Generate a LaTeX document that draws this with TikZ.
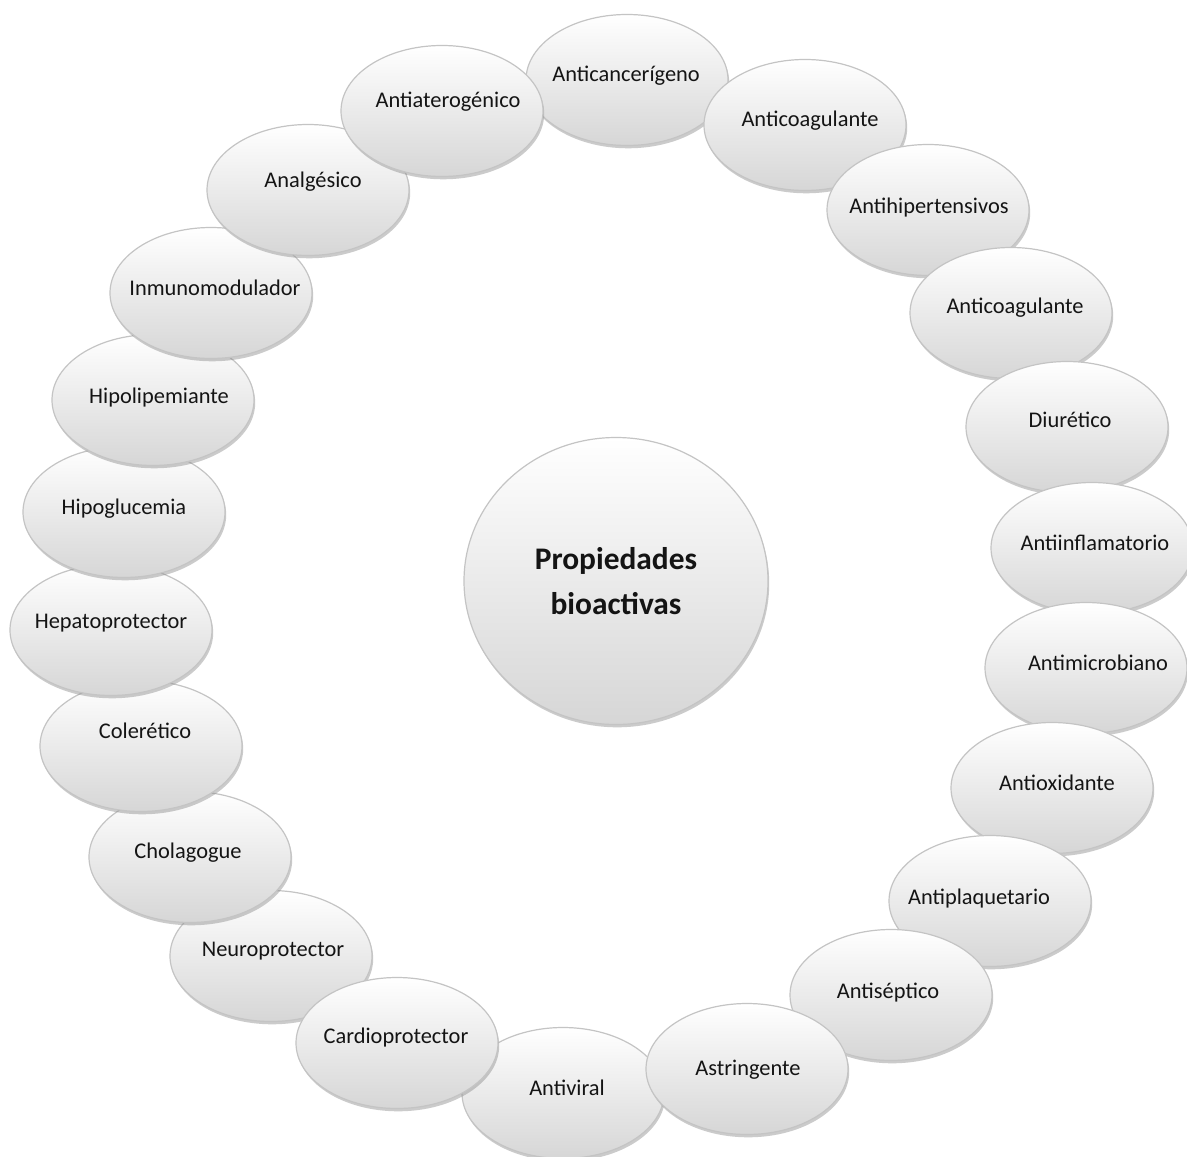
\documentclass[tikz,border=0pt]{standalone}
\usepackage{fontspec}
\setmainfont{Carlito}
\usetikzlibrary{shapes.geometric,shadows}
\newcommand\pname[3]{\smash{\makebox[0pt]{\kern#1pt\makebox[0pt]{\raisebox{#2pt}{#3}}}}}
\definecolor{bubbot}{RGB}{214,214,214}
\definecolor{bubline}{RGB}{196,196,196}
\definecolor{txt}{RGB}{20,20,20}
\begin{document}
\begin{tikzpicture}[x=0.5pt,y=-0.5pt,
  bub/.style={ellipse, draw=bubline, line width=0.6pt,
    top color=white, bottom color=bubbot,
    minimum width=101pt, minimum height=65.5pt, inner sep=0pt,
    font=\fontsize{11.2}{13.4}\selectfont, text=txt,
    drop shadow={shadow xshift=0.6pt, shadow yshift=-1.4pt, opacity=0.45, fill=black!45}},
  hub/.style={ellipse, draw=bubline, line width=0.6pt,
    top color=white, bottom color=bubbot,
    minimum width=152pt, minimum height=143.5pt, inner sep=0pt, align=center,
    font=\fontsize{15.7}{22.5}\selectfont\bfseries, text=txt,
    drop shadow={shadow xshift=0.6pt, shadow yshift=-1.4pt, opacity=0.45, fill=black!45}}]
\fill[white] (0,0) rectangle (1187,1156);
\useasboundingbox (0,0) rectangle (1187,1156);

\node[hub] (hub) at (616,581) {Propiedades\\bioactivas};

\node[bub] (antiviral) at (563,1093) {\pname{4}{-1.1}{Antiviral}};
\node[bub] (anticanc) at (627,80) {\pname{-1}{-0.6}{Anticancerígeno}};
\node[bub] (anticoag1) at (805,125) {\pname{5}{-0.6}{Anticoagulante}};
\node[bub] (antihiper) at (928,210) {\pname{1}{-1.6}{Antihipertensivos}};
\node[bub] (anticoag2) at (1011,313) {\pname{4}{-0.1}{Anticoagulante}};
\node[bub] (diuretico) at (1067,427) {\pname{3}{-0.1}{Diurético}};
\node[bub] (antiinfl) at (1092,548) {\pname{3}{-1.1}{Antiinflamatorio}};
\node[bub] (antimicro) at (1086,668) {\pname{12}{-1.1}{Antimicrobiano}};
\node[bub] (antioxi) at (1052,788) {\pname{5}{-1.1}{Antioxidante}};
\node[bub] (antiplaq) at (990,901) {\pname{-11}{-1.6}{Antiplaquetario}};
\node[bub] (antisep) at (891,995) {\pname{-3}{-1.6}{Antiséptico}};
\node[bub] (astring) at (747,1069) {\pname{1}{-3.1}{Astringente}};
\node[bub] (neuro) at (271,956) {\pname{2}{-0.1}{Neuroprotector}};
\node[bub] (cardio) at (397,1043) {\pname{-1}{-0.1}{Cardioprotector}};
\node[bub] (cholag) at (190,857) {\pname{-2}{-0.6}{Cholagogue}};
\node[bub] (coleret) at (141,746) {\pname{4}{3.9}{Colerético}};
\node[bub] (hepato) at (111,630) {\pname{0}{0.9}{Hepatoprotector}};
\node[bub] (hipoglu) at (124,512) {\pname{0}{-1.1}{Hipoglucemia}};
\node[bub] (hipolip) at (153,400) {\pname{6}{-1.6}{Hipolipemiante}};
\node[bub] (inmuno) at (211,293) {\pname{4}{-1.1}{Inmunomodulador}};
\node[bub] (analg) at (308,190) {\pname{5}{1.4}{Analgésico}};
\node[bub] (antiater) at (442,111) {\pname{6}{1.9}{Antiaterogénico}};
\end{tikzpicture}
\end{document}
